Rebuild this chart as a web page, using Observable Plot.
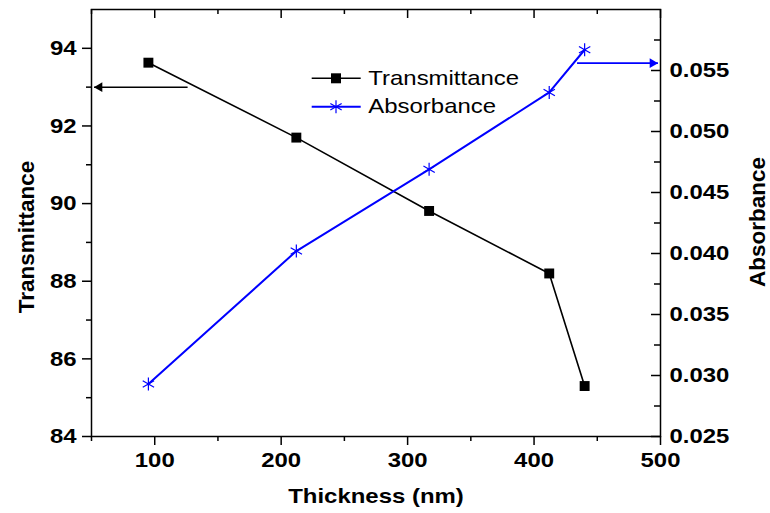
<!DOCTYPE html>
<html>
<head>
<meta charset="utf-8">
<script src="https://cdn.jsdelivr.net/npm/d3@7"></script>
<script src="https://cdn.jsdelivr.net/npm/@observablehq/plot@0.6"></script>
<style>
  html, body { margin: 0; padding: 0; background: white; }
  #wrap { position: relative; width: 770px; height: 513px; }
  #wrap svg { display: block; }
  #legend { position: absolute; left: 0; top: 0; pointer-events: none; }
</style>
</head>
<body>
<div id="wrap"></div>
<script>
// ---- data ----
const thickness = [95, 212, 317, 412, 440];
const transmittance = [93.63, 91.70, 89.81, 88.20, 85.30];
const absorbance = [0.0293, 0.0402, 0.0469, 0.0532, 0.0567];

const xTicks = [100, 200, 300, 400, 500];
const xMinorTicks = [50, 150, 250, 350, 450];
const tTicks = [84, 86, 88, 90, 92, 94];
const tMinorTicks = [85, 87, 89, 91, 93];
const aTicks = [0.025, 0.030, 0.035, 0.040, 0.045, 0.050, 0.055];
const aMinorTicks = [0.0275, 0.0325, 0.0375, 0.0425, 0.0475, 0.0525, 0.0575];

const seriesNames = ["Transmittance", "Absorbance"];
const seriesColors = ["#000000", "#0000ff"];

// arrows pointing each curve to its axis
const arrowT = [{x1: 126, x2: 52, v: 93.0}];
const arrowA = [{x1: 434, x2: 498, v: 0.0556}];

// ---- scales ----
const tDomain = [84, 95];
const aDomain = [0.025, 0.060];
const absToT = d3.scaleLinear(aDomain, tDomain);

const W = 770, H = 513;
const mL = 91, mR = 110, mT = 9, mB = 77;
const plotW = W - mL - mR, plotH = H - mT - mB;

const tRows = thickness.map((x, i) => ({x, v: transmittance[i]}));
const aRows = thickness.map((x, i) => ({x, v: absToT(absorbance[i])}));
const arrowARows = arrowA.map(d => ({...d, v: absToT(d.v)}));

const font = "'Liberation Sans', Arial, sans-serif";

const chart = Plot.plot({
  width: W, height: H,
  marginLeft: mL, marginRight: mR, marginTop: mT, marginBottom: mB,
  x: {domain: [50, 500], label: null},
  y: {domain: tDomain, label: null},
  style: {fontFamily: font, fontSize: "21px", fontWeight: "bold", color: "black", background: "white"},
  marks: [
    // bottom axis
    Plot.axisX({ticks: xTicks, tickSize: 9, tickPadding: 7, strokeWidth: 1.5, tickFormat: d => String(d), label: null}),
    Plot.axisX({ticks: xMinorTicks, tickSize: 5, strokeWidth: 1.5, tickFormat: () => "", label: null}),
    // top inward ticks
    Plot.tickX(xTicks, {x: d => d, insetBottom: plotH - 9, strokeWidth: 1.5}),
    Plot.tickX(xMinorTicks, {x: d => d, insetBottom: plotH - 5, strokeWidth: 1.5}),
    // left axis
    Plot.axisY({ticks: tTicks, tickSize: 9, tickPadding: 6, strokeWidth: 1.5, tickFormat: d => String(d), label: null}),
    Plot.axisY({ticks: tMinorTicks, tickSize: 5, strokeWidth: 1.5, tickFormat: () => "", label: null}),
    // right axis (absorbance), inward ticks
    Plot.axisY({anchor: "right", ticks: aTicks.map(absToT), tickSize: 0, tickPadding: 9,
      tickFormat: t => d3.format(".3f")(absToT.invert(t)), label: null}),
    Plot.tickY(aTicks.map(absToT), {y: d => d, insetLeft: plotW - 9, strokeWidth: 1.5}),
    Plot.tickY(aMinorTicks.map(absToT), {y: d => d, insetLeft: plotW - 6, strokeWidth: 1.5}),
    Plot.frame({strokeWidth: 1.5}),
    // axis titles
    Plot.text([seriesNames[0]], {text: d => d, frameAnchor: "left", dx: -65, dy: 14, rotate: -90,
      textAnchor: "middle", lineAnchor: "middle", fontSize: 22.5, fontWeight: "bold"}),
    Plot.text([seriesNames[1]], {text: d => d, frameAnchor: "right", dx: 97, dy: -1, rotate: -90,
      textAnchor: "middle", lineAnchor: "middle", fontSize: 22.5, fontWeight: "bold"}),
    Plot.text(["Thickness (nm)"], {text: d => d, frameAnchor: "bottom", dy: 60, lineAnchor: "middle",
      fontSize: 21, fontWeight: "bold"}),
    // arrows
    Plot.link(arrowT, {x1: "x1", x2: "x2", y1: "v", y2: "v", stroke: seriesColors[0], strokeWidth: 1.5}),
    Plot.dot(arrowT, {x: "x2", y: "v", symbol: "triangle", r: 3.6, rotate: -90, dx: 5.5, fill: seriesColors[0], stroke: null}),
    Plot.link(arrowARows, {x1: "x1", x2: "x2", y1: "v", y2: "v", stroke: seriesColors[1], strokeWidth: 1.8}),
    Plot.dot(arrowARows, {x: "x2", y: "v", symbol: "triangle", r: 3.6, rotate: 90, dx: -5.5, fill: seriesColors[1], stroke: null}),
    // series
    Plot.line(tRows, {x: "x", y: "v", stroke: seriesColors[0], strokeWidth: 1.6}),
    Plot.line(aRows, {x: "x", y: "v", stroke: seriesColors[1], strokeWidth: 2}),
    Plot.dot(tRows, {x: "x", y: "v", symbol: "square", r: 5.6, fill: seriesColors[0], stroke: null}),
    Plot.dot(aRows, {x: "x", y: "v", symbol: "asterisk", r: 6.2, stroke: seriesColors[1], strokeWidth: 1.2, fill: "none"})
  ]
});

const wrap = document.getElementById("wrap");
wrap.appendChild(chart);

// ---- legend (inside the plot area) ----
const leg = d3.select(wrap).append("svg").attr("id", "legend").attr("width", W).attr("height", H);
const legRows = [
  {name: seriesNames[0], color: seriesColors[0], y: 78.3, base: 85, sym: d3.symbolSquare, size: 100, fill: true},
  {name: seriesNames[1], color: seriesColors[1], y: 106.7, base: 112.5, sym: d3.symbolAsterisk, size: 6.2 * 6.2 * Math.PI, fill: false}
];
legRows.forEach(r => {
  leg.append("line").attr("x1", 311.7).attr("x2", 360.7).attr("y1", r.y).attr("y2", r.y)
    .attr("stroke", r.color).attr("stroke-width", r.fill ? 1.6 : 2);
  leg.append("path").attr("d", d3.symbol(r.sym, r.size)()).attr("transform", `translate(336,${r.y})`)
    .attr("fill", r.fill ? r.color : "none").attr("stroke", r.fill ? "none" : r.color).attr("stroke-width", 1.2);
  leg.append("text").attr("x", 368.3).attr("y", r.base).text(r.name)
    .attr("font-family", font).attr("font-size", 21).attr("fill", "black");
});

// the reference glyphs are horizontally stretched: widen non-rotated text
const S = 1.14;
wrap.querySelectorAll("text").forEach(t => {
  if ((t.getAttribute("transform") || "").includes("rotate")) return;
  const len = t.getComputedTextLength();
  if (len > 0) {
    t.setAttribute("textLength", len * S);
    t.setAttribute("lengthAdjust", "spacingAndGlyphs");
  }
});
</script>
</body>
</html>
